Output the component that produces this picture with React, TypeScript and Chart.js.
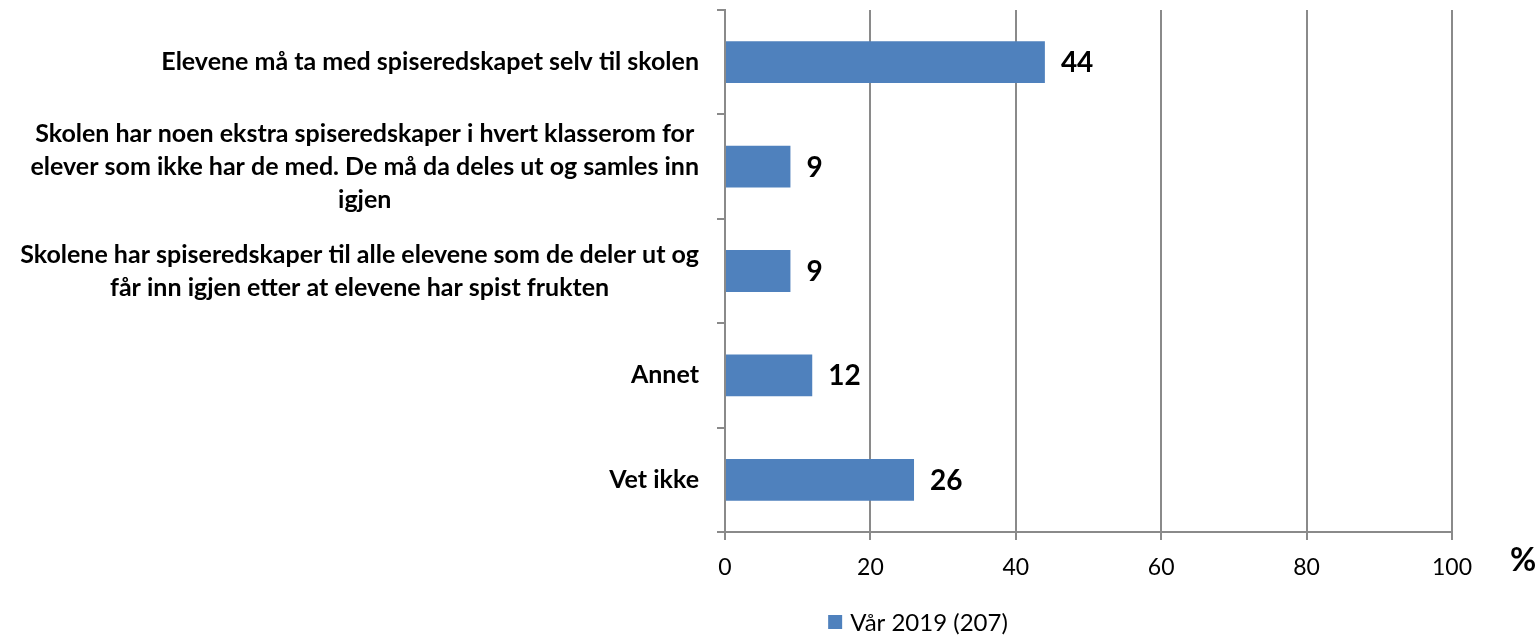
import React, { useEffect, useRef } from "react";
import { Chart, registerables } from "chart.js";

Chart.register(...registerables);

const categories: string[][] = [
  ["Elevene må ta med spiseredskapet selv til skolen"],
  [
    "Skolen har noen ekstra spiseredskaper i hvert klasserom for",
    "elever som ikke har de med. De må da deles ut og samles inn",
    "igjen",
  ],
  [
    "Skolene har spiseredskaper til alle elevene som de deler ut og",
    "får inn igjen etter at elevene har spist frukten",
  ],
  ["Annet"],
  ["Vet ikke"],
];
const seriesLabel = "Vår 2019 (207)";
const values: number[] = [44, 9, 9, 12, 26];
const xTicks: number[] = [0, 20, 40, 60, 80, 100];
const unitLabel = "%";

const FONT = "Lato, 'Open Sans', sans-serif";
const BAR = "#4F81BD";
const GRID = "#8a8a8a";

const labelsPlugin = {
  id: "customLabels",
  afterDraw(chart: any) {
    const ctx = chart.ctx;
    const yScale = chart.scales.y;
    const xScale = chart.scales.x;
    ctx.save();
    // category labels
    ctx.font = `bold 25px ${FONT}`;
    ctx.fillStyle = "#000";
    ctx.textBaseline = "middle";
    ctx.textAlign = "center";
    const right = yScale.right - 26;
    const lh = 33;
    categories.forEach((lines, i) => {
      const yc = yScale.getPixelForValue(i);
      const maxW = Math.max(...lines.map((l) => ctx.measureText(l).width));
      const cx = right - maxW / 2;
      const y0 = yc - ((lines.length - 1) * lh) / 2;
      lines.forEach((l, j) => ctx.fillText(l, cx, y0 + j * lh));
    });
    // data labels
    ctx.font = `bold 28px ${FONT}`;
    ctx.textAlign = "left";
    const meta = chart.getDatasetMeta(0);
    meta.data.forEach((bar: any, i: number) => {
      ctx.fillText(String(values[i]), bar.x + 16, bar.y + 1);
    });
    // unit
    ctx.font = `bold 32px ${FONT}`;
    ctx.textAlign = "left";
    ctx.fillText(unitLabel, xScale.right + 58, 561);
    // legend
    ctx.font = `24px ${FONT}`;
    const tw = ctx.measureText(seriesLabel).width;
    const box = 14;
    const gap = 8;
    const total = box + gap + tw;
    const lx = 918 - total / 2;
    const ly = 622;
    ctx.fillStyle = BAR;
    ctx.fillRect(lx, ly - box / 2, box, box);
    ctx.fillStyle = "#000";
    ctx.fillText(seriesLabel, lx + box + gap, ly + 1);
    ctx.restore();
  },
};

export default function App() {
  const ref = useRef<HTMLCanvasElement>(null);
  useEffect(() => {
    document.body.style.margin = "0";
    const canvas = ref.current!;
    const chart = new Chart(canvas, {
      type: "bar",
      data: {
        labels: categories.map((c) => c.join(" ")),
        datasets: [
          {
            label: seriesLabel,
            data: values,
            backgroundColor: BAR,
            borderWidth: 0,
            barPercentage: 0.4,
            categoryPercentage: 1,
          },
        ],
      },
      options: {
        indexAxis: "y",
        responsive: false,
        animation: false,
        layout: { padding: { top: 10, right: 88, left: 0, bottom: 38 } },
        scales: {
          x: {
            min: 0,
            max: 100,
            afterBuildTicks: (s: any) => {
              s.ticks = xTicks.map((v) => ({ value: v }));
            },
            afterFit: (s: any) => {
              s.height = 68;
            },
            ticks: {
              color: "#000",
              font: { family: FONT, size: 23 },
              padding: 14,
            },
            grid: {
              color: GRID,
              lineWidth: 2,
              tickLength: 8,
              drawTicks: true,
            },
            border: { color: GRID, width: 2 },
          },
          y: {
            afterFit: (s: any) => {
              s.width = 725;
            },
            ticks: { display: false },
            grid: {
              offset: true,
              drawOnChartArea: false,
              drawTicks: true,
              tickLength: 8,
              color: GRID,
              lineWidth: 2,
            },
            border: { color: GRID, width: 2 },
          },
        },
        plugins: {
          legend: { display: false },
          tooltip: { enabled: false },
        },
      },
      plugins: [labelsPlugin],
    } as any);
    return () => chart.destroy();
  }, []);
  return (
    <canvas
      ref={ref}
      width={1540}
      height={638}
      style={{ display: "block", width: 1540, height: 638 }}
    />
  );
}
